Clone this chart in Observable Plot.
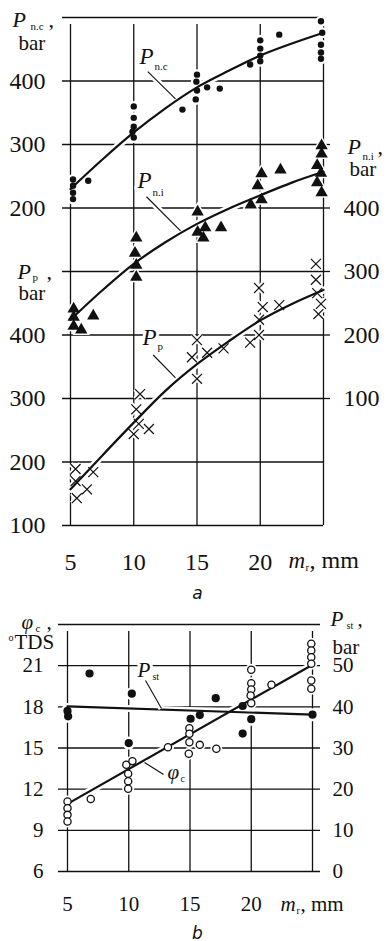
<!DOCTYPE html>
<html><head><meta charset="utf-8">
<script src="https://cdn.jsdelivr.net/npm/d3@7"></script>
<script src="https://cdn.jsdelivr.net/npm/@observablehq/plot@0.6"></script>
<style>
html,body{margin:0;padding:0;background:#fff;}
#chart svg{display:block;}
#chart svg text{font-family:"Liberation Serif","Times New Roman",Times,serif;}
#chart svg .sans text{font-family:"DejaVu Sans",sans-serif;}
</style></head><body><div id="chart"></div>
<script>
// ---------------- DATA ----------------
// x: m_r, mm
const mrTicks = [5, 10, 15, 20];
const mrGrid = [5, 10, 15, 20, 25];

// panel a tick labels
const ncTicks = [200, 300, 400];          // P_n.c, bar (left, upper)
const ppTicks = [100, 200, 300, 400];     // P_p, bar (left, lower)
const niTicks = [100, 200, 300, 400];     // P_n.i, bar (right)

// P_n.c measured points [m_r, bar]
const ncPoints = [[5.2,245],[5.2,235],[5.2,224],[5.2,214],[6.4,243],
  [10,360],[10,342],[10,328],[9.9,320],[10,311],
  [13.85,355],[15,410],[14.95,399],[15,385],[14.9,371],[15.8,390],[16.8,388],
  [19.2,426],[20,464],[20,451],[20,440],[20,431],[21.5,473],
  [24.8,494],[24.9,476],[24.8,457],[24.8,445],[24.8,435]];
const ncFit = [[5,230],[7.5,276],[10,319],[12.5,357],[15,390],[17.5,416],[20,440],[22.5,459],[25,476]];

// P_n.i measured points
const niPoints = [[5.25,241],[5.25,228],[5.25,214],[5.85,208],[6.8,230],
  [10.2,353],[10.1,329],[10.2,310],[10.2,291],
  [15.05,394],[15.65,369],[15.05,362],[15.5,353],[16.9,369],
  [19.25,405],[20.1,413],[19.8,435],[20.1,454],[21.6,460],
  [24.85,498],[24.85,485],[24.5,467],[24.8,455],[24.5,440],[24.85,424]];
const niFit = [[5,224],[7.5,270],[10,312],[12.5,346],[15,375],[17.5,399],[20,420],[22.5,440],[25,457]];

// P_p measured points
const ppPoints = [[5.4,189],[5.4,170],[6.8,184],[6.3,157],[5.5,143],
  [10.5,307],[10.2,283],[10.4,260],[11.2,252],[10,244],
  [15,392],[14.6,365],[15.8,372],[17.1,379],[15,331],
  [19.9,474],[20.2,444],[21.5,447],[19.9,424],[19.2,388],[19.9,400],
  [24.4,512],[24.4,487],[24.5,466],[24.8,449],[24.6,433]];
const ppFit = [[5,157],[7.5,210],[10,262],[12.5,312],[15,354],[17.5,390],[20,423],[22.5,449],[25,471]];

// panel b tick labels
const phiTicks = [6, 9, 12, 15, 18, 21];   // φc, °TDS (left)
const pstTicks = [0, 10, 20, 30, 40, 50];  // P_st, bar (right)

// P_st measured points (filled)
const pstPoints = [[5,39.0],[5.05,37.7],[6.8,48.1],[10.25,43.2],[10,31.2],[15.05,37.1],
  [15.8,38.0],[17.1,42.1],[19.3,40.2],[20,37.0],[19.3,33.5],[25,38.1]];
const pstFit = [[5,40.1],[25,38.1]];

// φc measured points (open)
const phiPoints = [[5,11.1],[5,10.61],[5,10.13],[5,9.64],[6.9,11.28],
  [9.8,13.78],[10.3,14.04],[9.95,13.12],[9.95,12.58],[9.95,12.03],
  [13.2,15.06],[14.95,16.44],[14.95,16.04],[14.95,15.42],[14.9,14.58],[15.8,15.23],[17.15,14.94],
  [20,20.7],[20,19.72],[20,19.27],[19.95,18.83],[20,18.27],[21.65,19.61],
  [24.9,22.6],[24.9,22.11],[24.9,21.62],[24.9,21.14],[24.9,19.92],[24.9,19.32]];
const phiFit = [[5,10.93],[25,21.07]];

// ---------------- SCALE LINKS ----------------
const NI_SHIFT = 200, PP_SHIFT = 400;
const pstToPhi = p => 6 + 0.3 * p;

// ---------------- STYLE ----------------
const FONT = "Liberation Serif, Times New Roman, serif";
const SANS = "DejaVu Sans, sans-serif";
const INK = "#111";
const GW = 1.3;

function T(str, o) {
  return Plot.text([str], {text: d => d, fill: INK, fontFamily: FONT, ...o});
}
function annot(list, subSize, pSize) {
  const halo = {fill: "white", stroke: "white", strokeWidth: 6};
  const marks = [];
  for (const pass of [halo, {fill: INK}]) {
    for (const a of list) {
      const lk = {x1: a.lx1, y1: a.ly1, x2: a.lx2, y2: a.ly2};
      marks.push(Plot.link([lk], {x1: "x1", y1: "y1", x2: "x2", y2: "y2",
        stroke: pass.fill === "white" ? "white" : INK, strokeWidth: pass.fill === "white" ? 6 : 1.1}));
      marks.push(Plot.text([a], {x: "x", y: "y", text: "sym", textAnchor: "start", lineAnchor: "bottom",
        fontSize: pSize, fontStyle: "italic", fontFamily: FONT, ...pass}));
      marks.push(Plot.text([a], {x: "x", y: "y", text: "sub", textAnchor: "start", lineAnchor: "bottom",
        dx: a.subDx, dy: a.subDy, fontSize: subSize, fontFamily: FONT, ...pass}));
    }
  }
  return marks;
}

// ---------------- PANEL A ----------------
const gridAu = [...new Set([500, ...ncTicks, ...niTicks.map(v => v - NI_SHIFT), ...ppTicks.map(v => v - PP_SHIFT)])];
const rightExtA = gridAu.filter(v => v >= -100 && v <= 300);

const annotA = [
  {sym: "P", sub: "n.c", x: 10.45, y: 426.6, lx1: 11.11, ly1: 414.8, lx2: 13.3, ly2: 371.8, subDx: 15, subDy: 6},
  {sym: "P", sub: "n.i", x: 10.3, y: 232, lx1: 11.01, ly1: 217.7, lx2: 13.7, ly2: 164, subDx: 15, subDy: 8},
  {sym: "P", sub: "p", x: 10.69, y: -15.8, lx1: 11.54, ly1: -31.5, lx2: 13.3, ly2: -67.4, subDx: 15, subDy: 5}
];

const X = d => d[0];
const plotA = Plot.plot({
  width: 388, height: 605,
  marginTop: 17, marginBottom: 80, marginLeft: 70, marginRight: 65,
  x: {domain: [5, 25], axis: null},
  y: {domain: [-300, 500], axis: null},
  style: {fontFamily: FONT, background: "white", overflow: "visible", color: INK},
  marks: [
    Plot.ruleX(mrGrid, {x: d => d, y1: -300, y2: 500, insetBottom: -7, stroke: INK, strokeWidth: GW}),
    Plot.ruleY(gridAu, {y: d => d, x1: 5, x2: 25, insetLeft: -8, stroke: INK, strokeWidth: GW}),
    Plot.ruleY(rightExtA, {y: d => d, x1: 25, x2: 25, insetRight: -7, stroke: INK, strokeWidth: GW}),
    // halos
    Plot.line(ncFit, {x: X, y: d => d[1], curve: "monotone-x", stroke: "white", strokeWidth: 7}),
    Plot.line(niFit, {x: X, y: d => d[1] - NI_SHIFT, curve: "monotone-x", stroke: "white", strokeWidth: 7}),
    Plot.line(ppFit, {x: X, y: d => d[1] - PP_SHIFT, curve: "monotone-x", stroke: "white", strokeWidth: 7}),
    Plot.dot(ncPoints, {x: X, y: d => d[1], r: 5.5, fill: "white"}),
    Plot.dot(niPoints, {x: X, y: d => d[1] - NI_SHIFT, symbol: "triangle", r: 6.5, fill: "white"}),
    Plot.dot(ppPoints, {x: X, y: d => d[1] - PP_SHIFT, symbol: "times", r: 4.6, stroke: "white", strokeWidth: 5}),
    // curves
    Plot.line(ncFit, {x: X, y: d => d[1], curve: "monotone-x", stroke: INK, strokeWidth: 2.2}),
    Plot.line(niFit, {x: X, y: d => d[1] - NI_SHIFT, curve: "monotone-x", stroke: INK, strokeWidth: 2.2}),
    Plot.line(ppFit, {x: X, y: d => d[1] - PP_SHIFT, curve: "monotone-x", stroke: INK, strokeWidth: 2.2}),
    // points
    Plot.dot(ncPoints, {x: X, y: d => d[1], r: 3.2, fill: INK}),
    Plot.dot(niPoints, {x: X, y: d => d[1] - NI_SHIFT, symbol: "triangle", r: 4.6, fill: INK}),
    Plot.dot(ppPoints, {x: X, y: d => d[1] - PP_SHIFT, symbol: "times", r: 4.6, stroke: INK, strokeWidth: 1.2}),
    ...annot(annotA, 11, 23),
    // tick labels
    Plot.text(ncTicks, {x: 5, y: d => d, text: d => `${d}`, dx: -25, textAnchor: "end", fontSize: 24, fontFamily: FONT, fill: INK}),
    Plot.text(ppTicks, {x: 5, y: d => d - PP_SHIFT, text: d => `${d}`, dx: -25, textAnchor: "end", fontSize: 24, fontFamily: FONT, fill: INK}),
    Plot.text(niTicks, {x: 25, y: d => d - NI_SHIFT, text: d => `${d}`, dx: 20, textAnchor: "start", fontSize: 24, fontFamily: FONT, fill: INK}),
    Plot.text(mrTicks, {x: d => d, y: -300, text: d => `${d}`, dy: 27, lineAnchor: "top", fontSize: 24, fontFamily: FONT, fill: INK}),
    // axis titles
    T("P", {frameAnchor: "top-left", dx: -58, dy: 9, lineAnchor: "bottom", textAnchor: "start", fontSize: 22, fontStyle: "italic"}),
    T("n.c", {frameAnchor: "top-left", dx: -40, dy: 12, lineAnchor: "bottom", textAnchor: "start", fontSize: 11}),
    T(",", {frameAnchor: "top-left", dx: -22, dy: 9, lineAnchor: "bottom", textAnchor: "start", fontSize: 22}),
    T("bar", {frameAnchor: "top-left", dx: -52, dy: 32, lineAnchor: "bottom", textAnchor: "start", fontSize: 21}),
    T("P", {frameAnchor: "top-left", dx: 277, dy: 136, lineAnchor: "bottom", textAnchor: "start", fontSize: 22, fontStyle: "italic"}),
    T("n.i", {frameAnchor: "top-left", dx: 292, dy: 142, lineAnchor: "bottom", textAnchor: "start", fontSize: 11}),
    T(",", {frameAnchor: "top-left", dx: 307, dy: 136, lineAnchor: "bottom", textAnchor: "start", fontSize: 22}),
    T("bar", {frameAnchor: "top-left", dx: 279, dy: 158, lineAnchor: "bottom", textAnchor: "start", fontSize: 21}),
    T("P", {frameAnchor: "top-left", dx: -53, dy: 261, lineAnchor: "bottom", textAnchor: "start", fontSize: 22, fontStyle: "italic"}),
    T("p", {frameAnchor: "top-left", dx: -38, dy: 263, lineAnchor: "bottom", textAnchor: "start", fontSize: 11}),
    T(",", {frameAnchor: "top-left", dx: -24, dy: 261, lineAnchor: "bottom", textAnchor: "start", fontSize: 22}),
    T("bar", {frameAnchor: "top-left", dx: -52, dy: 282, lineAnchor: "bottom", textAnchor: "start", fontSize: 21}),
    T("m", {frameAnchor: "bottom-left", dx: 218, dy: 42, lineAnchor: "bottom", textAnchor: "start", fontSize: 23, fontStyle: "italic"}),
    T("r", {frameAnchor: "bottom-left", dx: 235, dy: 45, lineAnchor: "bottom", textAnchor: "start", fontSize: 11}),
    T(", mm", {frameAnchor: "bottom-left", dx: 239, dy: 42, lineAnchor: "bottom", textAnchor: "start", fontSize: 24}),
    T("a", {frameAnchor: "bottom-left", dx: 127, dy: 73, lineAnchor: "bottom", textAnchor: "middle", fontSize: 17, fontStyle: "italic", fontFamily: SANS, className: "sans"})
  ]
});

// ---------------- PANEL B ----------------
const gridB = [24, ...phiTicks];
const annotB = [
  {sym: "P", sub: "st", x: 10.71, y: 20.2, lx1: 11.37, ly1: 19.92, lx2: 12.67, ly2: 17.88, subDx: 15, subDy: 3},
  {sym: "φ", sub: "c", x: 13.16, y: 12.71, lx1: 11.29, ly1: 13.94, lx2: 12.84, ly2: 13.07, subDx: 13, subDy: 3}
];

const plotB = Plot.plot({
  width: 388, height: 336,
  marginTop: 19, marginBottom: 70, marginLeft: 67, marginRight: 76,
  x: {domain: [5, 25], axis: null},
  y: {domain: [6, 24], axis: null},
  style: {fontFamily: FONT, background: "white", overflow: "visible", color: INK},
  marks: [
    Plot.ruleX(mrGrid, {x: d => d, y1: 6, y2: 24, insetBottom: -7, stroke: INK, strokeWidth: GW}),
    Plot.ruleY(gridB, {y: d => d, x1: 5, x2: 25, insetLeft: -9, insetRight: -8, stroke: INK, strokeWidth: GW}),
    // halos
    Plot.line(pstFit, {x: X, y: d => pstToPhi(d[1]), stroke: "white", strokeWidth: 7}),
    Plot.line(phiFit, {x: X, y: d => d[1], stroke: "white", strokeWidth: 7}),
    Plot.dot(pstPoints, {x: X, y: d => pstToPhi(d[1]), r: 6.5, fill: "white"}),
    Plot.dot(phiPoints, {x: X, y: d => d[1], r: 6, fill: "white"}),
    // lines
    Plot.line(pstFit, {x: X, y: d => pstToPhi(d[1]), stroke: INK, strokeWidth: 2.2}),
    Plot.line(phiFit, {x: X, y: d => d[1], stroke: INK, strokeWidth: 2.2}),
    // points
    Plot.dot(pstPoints, {x: X, y: d => pstToPhi(d[1]), r: 4.1, fill: INK}),
    Plot.dot(phiPoints, {x: X, y: d => d[1], r: 3.6, fill: "white", stroke: INK, strokeWidth: 1.3}),
    ...annot(annotB, 10, 21),
    // tick labels
    Plot.text(phiTicks, {x: 5, y: d => d, text: d => `${d}`, dx: -24, textAnchor: "end", fontSize: 21, fontFamily: FONT, fill: INK}),
    Plot.text(pstTicks, {x: 25, y: d => pstToPhi(d), text: d => `${d}`, dx: 20, textAnchor: "start", fontSize: 21, fontFamily: FONT, fill: INK}),
    Plot.text(mrTicks, {x: d => d, y: 6, text: d => `${d}`, dy: 25, lineAnchor: "top", fontSize: 21, fontFamily: FONT, fill: INK}),
    // axis titles
    T("φ", {frameAnchor: "top-left", dx: -46, dy: 4, lineAnchor: "bottom", textAnchor: "start", fontSize: 21, fontStyle: "italic"}),
    T("c", {frameAnchor: "top-left", dx: -32, dy: 7, lineAnchor: "bottom", textAnchor: "start", fontSize: 11}),
    T(",", {frameAnchor: "top-left", dx: -21, dy: 4, lineAnchor: "bottom", textAnchor: "start", fontSize: 21}),
    T("o", {frameAnchor: "top-left", dx: -59, dy: 16, lineAnchor: "bottom", textAnchor: "start", fontSize: 10}),
    T("TDS", {frameAnchor: "top-left", dx: -53, dy: 24, lineAnchor: "bottom", textAnchor: "start", fontSize: 21}),
    T("P", {frameAnchor: "top-left", dx: 263, dy: 1, lineAnchor: "bottom", textAnchor: "start", fontSize: 21, fontStyle: "italic"}),
    T("st", {frameAnchor: "top-left", dx: 279, dy: 4, lineAnchor: "bottom", textAnchor: "start", fontSize: 10}),
    T(",", {frameAnchor: "top-left", dx: 290, dy: 1, lineAnchor: "bottom", textAnchor: "start", fontSize: 21}),
    T("bar", {frameAnchor: "top-left", dx: 265, dy: 29, lineAnchor: "bottom", textAnchor: "start", fontSize: 21}),
    T("m", {frameAnchor: "bottom-left", dx: 213, dy: 39, lineAnchor: "bottom", textAnchor: "start", fontSize: 21, fontStyle: "italic"}),
    T("r", {frameAnchor: "bottom-left", dx: 229, dy: 42, lineAnchor: "bottom", textAnchor: "start", fontSize: 10}),
    T(", mm", {frameAnchor: "bottom-left", dx: 233, dy: 39, lineAnchor: "bottom", textAnchor: "start", fontSize: 21}),
    T("b", {frameAnchor: "bottom-left", dx: 130, dy: 67, lineAnchor: "bottom", textAnchor: "middle", fontSize: 17, fontStyle: "italic", fontFamily: SANS, className: "sans"})
  ]
});

document.getElementById("chart").append(plotA, plotB);
</script></body></html>
